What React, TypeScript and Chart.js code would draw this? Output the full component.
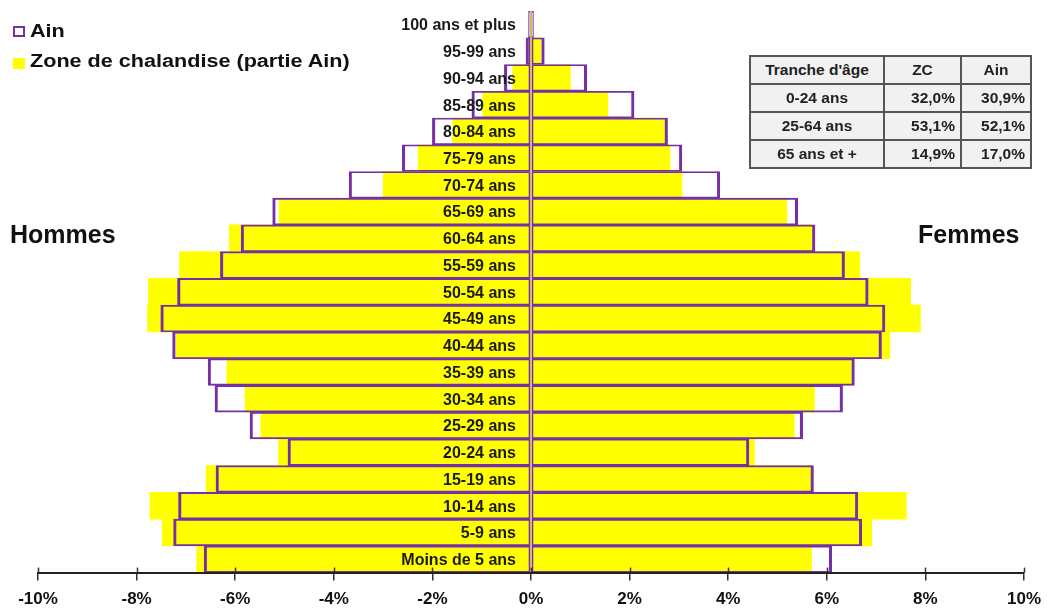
import React, { useEffect, useRef } from "react";
import { Chart, registerables } from "chart.js";

Chart.register(...registerables);

// ---- Data (youngest to oldest) ----
const ageGroups = [
  "Moins de 5 ans", "5-9 ans", "10-14 ans", "15-19 ans", "20-24 ans",
  "25-29 ans", "30-34 ans", "35-39 ans", "40-44 ans", "45-49 ans",
  "50-54 ans", "55-59 ans", "60-64 ans", "65-69 ans", "70-74 ans",
  "75-79 ans", "80-84 ans", "85-89 ans", "90-94 ans", "95-99 ans",
  "100 ans et plus",
];

// Hommes shown as negative values (left side)
const ainHommes = [
  -6.63, -7.25, -7.15, -6.39, -4.93, -5.70, -6.41, -6.55, -7.27, -7.51,
  -7.17, -6.30, -5.88, -5.24, -3.69, -2.61, -2.00, -1.20, -0.54, -0.10, -0.05,
];
const ainFemmes = [
  6.10, 6.71, 6.63, 5.73, 4.42, 5.51, 6.32, 6.56, 7.11, 7.18,
  6.84, 6.36, 5.76, 5.41, 3.83, 3.06, 2.77, 2.09, 1.13, 0.27, 0.05,
];
const zcHommes = [
  -6.78, -7.48, -7.73, -6.59, -5.12, -5.48, -5.80, -6.17, -7.20, -7.78,
  -7.76, -7.13, -6.12, -5.11, -3.00, -2.29, -1.59, -0.98, -0.37, -0.06, -0.01,
];
const zcFemmes = [
  5.69, 6.91, 7.61, 5.70, 4.53, 5.34, 5.75, 6.50, 7.28, 7.90,
  7.70, 6.67, 5.72, 5.19, 3.06, 2.82, 2.72, 1.56, 0.80, 0.20, 0.01,
];

const xTickValues = [-10, -8, -6, -4, -2, 0, 2, 4, 6, 8, 10];

const legendLabels = ["Ain", "Zone de chalandise (partie Ain)"];
const sideLabels = ["Hommes", "Femmes"];

const tableHeader = ["Tranche d'âge", "ZC", "Ain"];
const tableRows = [
  ["0-24 ans", "32,0%", "30,9%"],
  ["25-64 ans", "53,1%", "52,1%"],
  ["65 ans et +", "14,9%", "17,0%"],
];

const PURPLE = "#7530A8";
const YELLOW = "#FFFF00";
const FONT = "'Liberation Sans', Arial, Helvetica, sans-serif";

const centerLabelsPlugin = {
  id: "centerLabels",
  afterDatasetsDraw(chart: any) {
    const { ctx, scales } = chart;
    const x = scales.x;
    const y = scales.y;
    ctx.save();
    ctx.font = `bold 16px ${FONT}`;
    ctx.fillStyle = "#1a1a1a";
    ctx.textAlign = "right";
    ctx.textBaseline = "middle";
    const x0 = x.getPixelForValue(0) - 15;
    ageGroups.forEach((lab, i) => {
      ctx.fillText(lab, x0, y.getPixelForValue(i) + 1.5);
    });
    // small tick marks above the axis line
    ctx.strokeStyle = "#333";
    ctx.lineWidth = 1.5;
    const yb = chart.chartArea.bottom;
    x.ticks.forEach((t: any) => {
      const px = Math.round(x.getPixelForValue(t.value)) + 0.5;
      ctx.beginPath();
      ctx.moveTo(px, yb - 5);
      ctx.lineTo(px, yb);
      ctx.stroke();
    });
    ctx.restore();
  },
};

export default function App() {
  const canvasRef = useRef<HTMLCanvasElement | null>(null);

  useEffect(() => {
    if (!canvasRef.current) return;
    const common = {
      grouped: false,
      barPercentage: 1,
      categoryPercentage: 1,
    };
    const chart = new Chart(canvasRef.current, {
      type: "bar",
      data: {
        labels: ageGroups,
        datasets: [
          {
            label: legendLabels[0] + " H",
            data: ainHommes,
            backgroundColor: "rgba(0,0,0,0)",
            borderColor: PURPLE,
            borderWidth: { top: 1.2, bottom: 1.2, left: 2.4, right: 1.2 },
            borderSkipped: false,
            order: 0,
            ...common,
          },
          {
            label: legendLabels[0] + " F",
            data: ainFemmes,
            backgroundColor: "rgba(0,0,0,0)",
            borderColor: PURPLE,
            borderWidth: { top: 1.2, bottom: 1.2, left: 1.2, right: 2.4 },
            borderSkipped: false,
            order: 0,
            ...common,
          },
          {
            label: legendLabels[1] + " H",
            data: zcHommes,
            backgroundColor: YELLOW,
            borderWidth: 0,
            order: 1,
            ...common,
          },
          {
            label: legendLabels[1] + " F",
            data: zcFemmes,
            backgroundColor: YELLOW,
            borderWidth: 0,
            order: 1,
            ...common,
          },
        ] as any,
      },
      options: {
        indexAxis: "y",
        animation: false,
        responsive: true,
        maintainAspectRatio: false,
        layout: { padding: { left: 38, right: 31, top: 11, bottom: -11 } },
        plugins: {
          legend: { display: false },
          tooltip: { enabled: false },
          title: { display: false },
        },
        scales: {
          x: {
            type: "linear",
            min: -10,
            max: 10,
            afterBuildTicks: (scale: any) => {
              scale.ticks = xTickValues.map((v) => ({ value: v }));
            },
            ticks: {
              callback: (v: any) => `${v}%`,
              font: { family: FONT, size: 17, weight: "bold" },
              color: "#111",
              padding: 9,
              maxRotation: 0,
              autoSkip: false,
            },
            grid: {
              drawOnChartArea: false,
              drawTicks: true,
              tickLength: 8,
              color: "#333",
              lineWidth: 1.5,
            },
            border: { display: true, color: "#222", width: 2, z: 2 },
          },
          y: {
            type: "category",
            reverse: true,
            display: false,
          },
        },
      } as any,
      plugins: [centerLabelsPlugin],
    });
    return () => chart.destroy();
  }, []);

  const textBase: React.CSSProperties = {
    position: "absolute",
    fontFamily: FONT,
    fontWeight: "bold",
    color: "#111",
    whiteSpace: "nowrap",
  };

  const legendText: React.CSSProperties = {
    ...textBase,
    left: 30,
    fontSize: 18,
    lineHeight: "20px",
    transform: "scaleX(1.2)",
    transformOrigin: "0 50%",
  };

  const cell: React.CSSProperties = {
    border: "2px solid #555",
    background: "#f1f1f1",
    height: 26,
    padding: "0 5px",
    fontFamily: FONT,
    fontWeight: "bold",
    fontSize: 15.5,
    color: "#222",
    lineHeight: "18px",
    overflow: "hidden",
    whiteSpace: "nowrap",
  };

  return (
    <div
      style={{
        position: "absolute",
        left: 0,
        top: 0,
        width: 1055,
        height: 608,
        background: "#fff",
        overflow: "hidden",
      }}
    >
      <canvas ref={canvasRef} />

      {/* Legend */}
      <div
        style={{
          position: "absolute",
          left: 13,
          top: 26,
          width: 12,
          height: 11,
          boxSizing: "border-box",
          border: `2.5px solid ${PURPLE}`,
          background: "#fff",
        }}
      />
      <div style={{ ...legendText, top: 21 }}>{legendLabels[0]}</div>
      <div
        style={{
          position: "absolute",
          left: 13,
          top: 58,
          width: 12,
          height: 11,
          background: YELLOW,
        }}
      />
      <div style={{ ...legendText, top: 51 }}>{legendLabels[1]}</div>

      {/* Side labels */}
      <div style={{ ...textBase, left: 10, top: 220, fontSize: 25, lineHeight: "28px" }}>
        {sideLabels[0]}
      </div>
      <div style={{ ...textBase, left: 918, top: 220, fontSize: 25, lineHeight: "28px" }}>
        {sideLabels[1]}
      </div>

      {/* Summary table */}
      <table
        style={{
          position: "absolute",
          left: 749,
          top: 55,
          borderCollapse: "collapse",
          tableLayout: "fixed",
          width: 281,
        }}
      >
        <colgroup>
          <col style={{ width: 134 }} />
          <col style={{ width: 77 }} />
          <col style={{ width: 70 }} />
        </colgroup>
        <tbody>
          <tr>
            {tableHeader.map((h, i) => (
              <td key={i} style={{ ...cell, textAlign: "center" }}>
                {h}
              </td>
            ))}
          </tr>
          {tableRows.map((row, r) => (
            <tr key={r}>
              {row.map((c, i) => (
                <td
                  key={i}
                  style={{ ...cell, textAlign: i === 0 ? "center" : "right" }}
                >
                  {c}
                </td>
              ))}
            </tr>
          ))}
        </tbody>
      </table>
    </div>
  );
}
